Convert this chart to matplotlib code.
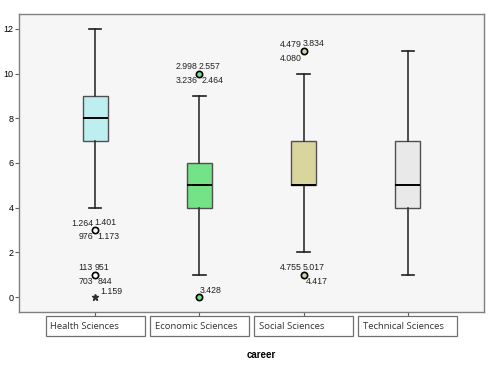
import matplotlib.pyplot as plt
from matplotlib.patches import Rectangle

plt.rcParams['font.family'] = ['Liberation Sans', 'DejaVu Sans']

careers = ['Health Sciences', 'Economic Sciences', 'Social Sciences', 'Technical Sciences']
whislo = [4, 1, 2, 1]
q1 = [7, 4, 5, 4]
med = [8, 5, 5, 5]
q3 = [9, 6, 7, 7]
whishi = [12, 9, 10, 11]
colors = ['#bdeef0', '#74e286', '#d9d59c', '#e9e9e9']

# outliers: (group index, value, marker, [(label, corner), ...])
outliers = [
    (0, 3, 'o', [('1.264', 'ul'), ('1.401', 'ur'), ('976', 'll'), ('1.173', 'lr')]),
    (0, 1, 'o', [('113', 'ul'), ('951', 'ur'), ('703', 'll'), ('844', 'lr')]),
    (0, 0, '*', [('1.159', 'ur')]),
    (1, 10, 'o', [('2.998', 'ul'), ('2.557', 'ur'), ('3.236', 'll'), ('2.464', 'lr')]),
    (1, 0, 'o', [('3.428', 'ur')]),
    (2, 11, 'o', [('4.479', 'ul'), ('3.834', 'ur'), ('4.080', 'll')]),
    (2, 1, 'o', [('4.755', 'ul'), ('5.017', 'ur'), ('4.417', 'lr')]),
]

fig = plt.figure(figsize=(4.92, 3.68), dpi=100)
ax = fig.add_axes([19/492, 56/368, 465/492, 298/368])
ax.set_facecolor('#f6f6f6')

pos = [1, 2, 3, 4]
stats = []
for i in range(4):
    stats.append(dict(whislo=whislo[i], q1=q1[i], med=med[i], q3=q3[i], whishi=whishi[i], fliers=[]))

bp = ax.bxp(stats, positions=pos, widths=0.24, patch_artist=True, showfliers=False,
            boxprops=dict(edgecolor='#505050', linewidth=1.0),
            medianprops=dict(color='black', linewidth=1.4),
            whiskerprops=dict(color='#303030', linewidth=1.2),
            capprops=dict(color='#202020', linewidth=1.2))
for b, c in zip(bp['boxes'], colors):
    b.set_facecolor(c)
for cap in bp['caps']:
    x0, x1 = cap.get_xdata()
    m = (x0 + x1) / 2
    cap.set_xdata([m - 0.06, m + 0.06])

offs = {'ul': (-1.5, 5, 'right'), 'ur': (-0.5, 5.5, 'left'), 'll': (-1.5, -5, 'right'), 'lr': (1.5, -5, 'left')}
for g, v, mk, labels in outliers:
    if mk == '*':
        ax.plot(pos[g], v, marker='*', color='#303030', markersize=5, linestyle='none')
    else:
        fc = 'white' if g == 0 else colors[g]
        ax.plot(pos[g], v, marker='o', markerfacecolor=fc, markeredgecolor='black',
                markeredgewidth=1.2, markersize=4.5, linestyle='none')
    for txt, corner in labels:
        dx, dy, ha = offs[corner]
        if len(labels) == 1:
            dx, dy = (3.5, 4) if mk == '*' else (0, 5)
        ax.annotate(txt, (pos[g], v), xytext=(dx, dy), textcoords='offset points',
                    ha=ha, va='center', fontsize=6.3, color='#222222')

ax.set_xlim(0.27, 4.73)
ax.set_ylim(-0.67, 12.67)
ax.set_yticks(range(0, 13, 2))
ax.tick_params(axis='y', labelsize=6.5, length=3, width=0.8, color='#606060', pad=1)
ax.set_xticks(pos)
ax.set_xticklabels([])
ax.tick_params(axis='x', length=3, width=0.8, color='#606060')
for s in ax.spines.values():
    s.set_color('#808080')
    s.set_linewidth(1.0)

tr = ax.get_xaxis_transform()
for p, name in zip(pos, careers):
    ax.add_patch(Rectangle((p - 0.475, -0.081), 0.95, 0.068, transform=tr, clip_on=False,
                           facecolor='white', edgecolor='#707070', linewidth=0.9))
    ax.text(p - 0.43, -0.047, name, transform=tr, ha='left', va='center', fontsize=6.8,
            family=['Open Sans', 'DejaVu Sans'], color='#333333')

fig.text(261/492, 1 - 355/368, 'career', ha='center', va='center', fontsize=7, fontweight='bold')

fig.savefig('out.png', dpi=100)
